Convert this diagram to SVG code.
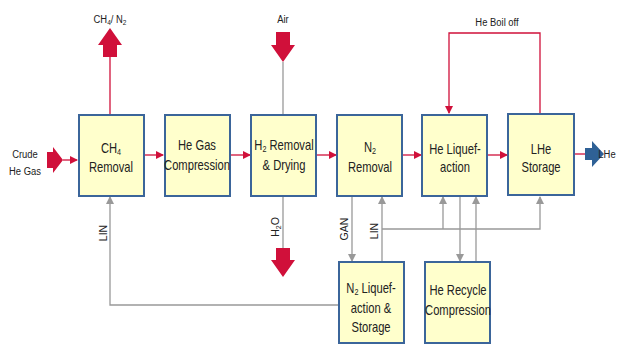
<svg xmlns="http://www.w3.org/2000/svg" width="620" height="345" viewBox="0 0 620 345">
<defs>
<style>
.box{fill:#FFFFCC;stroke:#3B659A;stroke-width:2}
.t{font-family:"Liberation Sans",Arial,sans-serif;font-size:14px;fill:#222;text-anchor:middle}
.s{font-family:"Liberation Sans",Arial,sans-serif;font-size:11.5px;fill:#222;text-anchor:middle}
.v{font-family:"Liberation Sans",Arial,sans-serif;font-size:10.5px;fill:#222;text-anchor:middle}
.red{stroke:#D0103A;stroke-width:1.3;fill:none}
.gray{stroke:#999;stroke-width:1.3;fill:none}
</style>
<marker id="ar" markerWidth="8" markerHeight="8" refX="7" refY="4" orient="auto" markerUnits="userSpaceOnUse"><path d="M0,0 L8,4 L0,8 Z" fill="#D0103A"/></marker>
<marker id="ag" markerWidth="8" markerHeight="8" refX="7" refY="4" orient="auto" markerUnits="userSpaceOnUse"><path d="M0,0 L8,4 L0,8 Z" fill="#999"/></marker>
</defs>
<rect width="620" height="345" fill="#fff"/>
<g id="connectors">
<path class="red" d="M63,160 H77" marker-end="url(#ar)"/>
<path class="red" d="M145,155 H163" marker-end="url(#ar)"/>
<path class="red" d="M231,155 H250" marker-end="url(#ar)"/>
<path class="red" d="M317,155 H336" marker-end="url(#ar)"/>
<path class="red" d="M403,155 H421" marker-end="url(#ar)"/>
<path class="red" d="M488,155 H507" marker-end="url(#ar)"/>
<path class="red" d="M575,154 H586"/>
<path class="red" d="M110,114 V57"/>
<path class="gray" d="M283,62 V114"/>
<path class="gray" d="M283,197 V248"/>
<path class="red" d="M540,113 V33 H449 V113" marker-end="url(#ar)"/>
<path class="gray" d="M338,305 H110 V197" marker-end="url(#ag)"/>
<path class="gray" d="M352,197 V261" marker-end="url(#ag)"/>
<path class="gray" d="M382,261 V197" marker-end="url(#ag)"/>
<path class="gray" d="M382,229 H540 V197" marker-end="url(#ag)"/>
<path class="gray" d="M443,229 V197" marker-end="url(#ag)"/>
<path class="gray" d="M460,197 V261" marker-end="url(#ag)"/>
<path class="gray" d="M476,261 V197" marker-end="url(#ag)"/>
<path d="M47,152 H53 V147 L63,160 L53,173 V168 H47 Z" fill="#D0103A"/>
<path d="M103,57 V45 H98 L110,28 L122,45 H117 V57 Z" fill="#D0103A"/>
<path d="M276,32 H290 V45 H295 L283,62 L271,45 H276 Z" fill="#D0103A"/>
<path d="M276,248 H290 V260 H295 L283,277 L271,260 H276 Z" fill="#D0103A"/>
<path d="M585,148 H592 V141 L604,154 L592,167 V160 H585 Z" fill="#2F6196"/>
</g>
<g id="labels">
<text class="s" transform="translate(110,0) scale(0.82,1)" y="23">CH<tspan font-size="8" dy="2">4</tspan><tspan dy="-2">/ N</tspan><tspan font-size="8" dy="2">2</tspan></text>
<text class="s" transform="translate(283,0) scale(0.82,1)" y="23">Air</text>
<text class="s" transform="translate(497,0) scale(0.82,1)" y="26">He Boil off</text>
<text class="s" transform="translate(25,0) scale(0.82,1)" y="158">Crude</text>
<text class="s" transform="translate(25,0) scale(0.82,1)" y="175">He Gas</text>
<text class="s" transform="translate(607,0) scale(0.82,1)" y="158" text-anchor="start">LHe</text>
<text class="v" transform="translate(107,233) rotate(-90)">LIN</text>
<text class="v" transform="translate(279,227) rotate(-90)">H<tspan font-size="7" dy="2">2</tspan><tspan dy="-2">O</tspan></text>
<text class="v" transform="translate(348,229) rotate(-90)">GAN</text>
<text class="v" transform="translate(378,231) rotate(-90)">LIN</text>
</g>
<g id="ch4"><rect class="box" x="79" y="115" width="65" height="81"/><g transform="translate(111,0) scale(0.8,1)"><text class="t" y="153">CH<tspan font-size="9" dy="2">4</tspan></text><text class="t" y="172">Removal</text></g></g>
<g id="hegas"><rect class="box" x="165" y="115" width="65" height="81"/><g transform="translate(197,0) scale(0.8,1)"><text class="t" y="150">He Gas</text><text class="t" y="170">Compression</text></g></g>
<g id="h2"><rect class="box" x="251" y="115" width="65" height="81"/><g transform="translate(284,0) scale(0.8,1)"><text class="t" y="150">H<tspan font-size="9" dy="2">2</tspan><tspan dy="-2"> Removal</tspan></text><text class="t" y="170">&amp; Drying</text></g></g>
<g id="n2"><rect class="box" x="337" y="115" width="65" height="81"/><g transform="translate(370,0) scale(0.8,1)"><text class="t" y="152">N<tspan font-size="9" dy="2">2</tspan></text><text class="t" y="172">Removal</text></g></g>
<g id="heliq"><rect class="box" x="422" y="115" width="65" height="81"/><g transform="translate(455,0) scale(0.8,1)"><text class="t" y="154">He Liquef-</text><text class="t" y="172">action</text></g></g>
<g id="lhe"><rect class="box" x="508" y="114" width="66" height="81"/><g transform="translate(541,0) scale(0.8,1)"><text class="t" y="154">LHe</text><text class="t" y="172">Storage</text></g></g>
<g id="n2liq"><rect class="box" x="339" y="262" width="65" height="81"/><g transform="translate(371,0) scale(0.8,1)"><text class="t" y="293">N<tspan font-size="9" dy="2">2</tspan><tspan dy="-2"> Liquef-</tspan></text><text class="t" y="313">action &amp;</text><text class="t" y="332">Storage</text></g></g>
<g id="herec"><rect class="box" x="425" y="262" width="65" height="81"/><g transform="translate(458,0) scale(0.8,1)"><text class="t" y="295">He Recycle</text><text class="t" y="315">Compression</text></g></g>
</svg>
